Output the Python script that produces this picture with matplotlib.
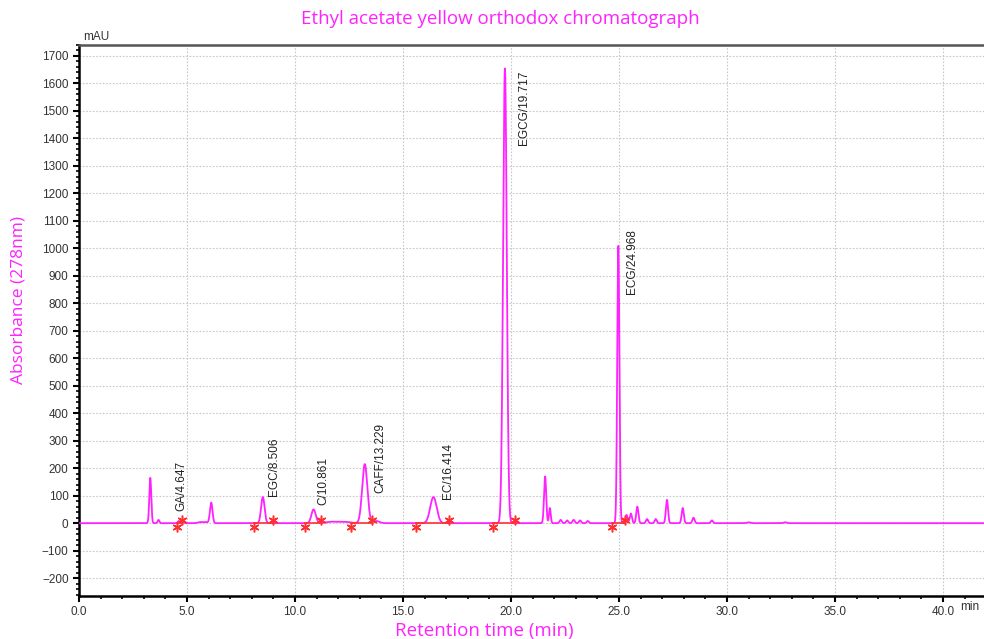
import numpy as np
import matplotlib.pyplot as plt
from matplotlib.ticker import MultipleLocator, FormatStrFormatter

plt.rcParams['font.family'] = 'Liberation Sans'

# peak table: retention time (min), height (mAU), width (min)
peak_rt = [3.30, 3.68, 4.62, 4.78, 5.60, 5.85, 6.12, 8.51, 10.86, 11.70, 12.30,
           13.23, 13.75, 16.41, 19.72, 21.58, 21.80, 22.30, 22.60, 22.90, 23.20,
           23.55, 24.97, 25.35, 25.55, 25.85, 26.30, 26.70, 27.22, 27.95, 28.45,
           29.30, 31.00, 32.70]
peak_h = [165, 12, 8, 10, 4, 4, 75, 95, 50, 5, 5, 215, 8, 95, 1655, 170, 55,
          12, 10, 12, 10, 8, 1010, 30, 35, 60, 15, 15, 85, 55, 20, 10, 3, 3]
peak_w = [0.045, 0.04, 0.05, 0.05, 0.1, 0.1, 0.06, 0.08, 0.10, 0.25, 0.25,
          0.12, 0.15, 0.15, 0.085, 0.05, 0.04, 0.05, 0.05, 0.05, 0.05, 0.05,
          0.05, 0.05, 0.05, 0.05, 0.05, 0.05, 0.05, 0.05, 0.05, 0.05, 0.08, 0.08]

# named peaks
labels = ["GA/4.647", "EGC/8.506", "C/10.861", "CAFF/13.229", "EC/16.414",
          "EGCG/19.717", "ECG/24.968"]
label_x = [4.75, 9.05, 11.30, 13.95, 17.10, 20.60, 25.60]
label_y = [45, 100, 65, 110, 87, 1375, 835]

# integration baseline start/end times
integ_start = [4.52, 8.10, 10.46, 12.60, 15.60, 19.15, 24.69]
integ_end = [4.75, 8.98, 11.19, 13.57, 17.15, 20.19, 25.28]

t = np.linspace(0, 42, 8000)
signal = np.zeros_like(t)
for rt, h, w in zip(peak_rt, peak_h, peak_w):
    signal += h * np.exp(-0.5 * ((t - rt) / w) ** 2)

mag = '#ff22ff'
fig = plt.figure(figsize=(9.84, 6.39), dpi=100)
ax = fig.add_axes([0.0803, 0.0673, 0.9197, 0.8623])

ax.plot(t, signal, color=mag, lw=1.3, zorder=3)

for s, e in zip(integ_start, integ_end):
    ax.plot([s, e], [0, 0], color='#ff3030', lw=1.2, zorder=4)
    ax.plot(s, -14, marker=(6, 2, 0), color='#ff3030', ms=7, mew=1.1, zorder=5)
    ax.plot(e, 12, marker=(6, 2, 0), color='#ff3030', ms=7, mew=1.1, zorder=5)

for lab, lx, ly in zip(labels, label_x, label_y):
    ax.text(lx, ly, lab, rotation=90, ha='center', va='bottom', fontsize=8.5,
            color='#222222')

ax.set_xlim(0, 41.9)
ax.set_ylim(-265, 1740)
ax.xaxis.set_major_locator(MultipleLocator(5))
ax.xaxis.set_minor_locator(MultipleLocator(1))
ax.yaxis.set_major_locator(MultipleLocator(100))
ax.yaxis.set_minor_locator(MultipleLocator(20))
ax.xaxis.set_major_formatter(FormatStrFormatter('%.1f'))
ax.grid(True, which='major', color='#c8c8c8', ls=(0, (1.5, 1.5)), lw=0.8)

ax.tick_params(axis='both', which='major', direction='out', length=4, width=1.5,
               labelsize=8.5, labelcolor='#333333')
ax.tick_params(axis='both', which='minor', direction='out', length=2.5, width=1.2)

ax.spines['left'].set_linewidth(1.8)
ax.spines['bottom'].set_linewidth(1.8)
ax.spines['top'].set_linewidth(1.8)
ax.spines['top'].set_color('#555555')
ax.spines['right'].set_visible(False)

fig.text(0.0845, 0.932, 'mAU', fontsize=8.5, color='#333333', ha='left', va='bottom')
fig.text(0.976, 0.050, 'min', fontsize=8.5, color='#333333', ha='left', va='center')

fig.text(0.508, 0.970, 'Ethyl acetate yellow orthodox chromatograph', color=mag,
         fontsize=13.5, family='Open Sans', ha='center', va='center')
fig.text(0.492, 0.013, 'Retention time (min)', color=mag, fontsize=13.5,
         family='Open Sans', ha='center', va='center')
fig.text(0.019, 0.53, 'Absorbance (278nm)', color=mag, fontsize=12.5,
         family='Open Sans', ha='center', va='center', rotation=90)

fig.savefig('out.png', dpi=100)
